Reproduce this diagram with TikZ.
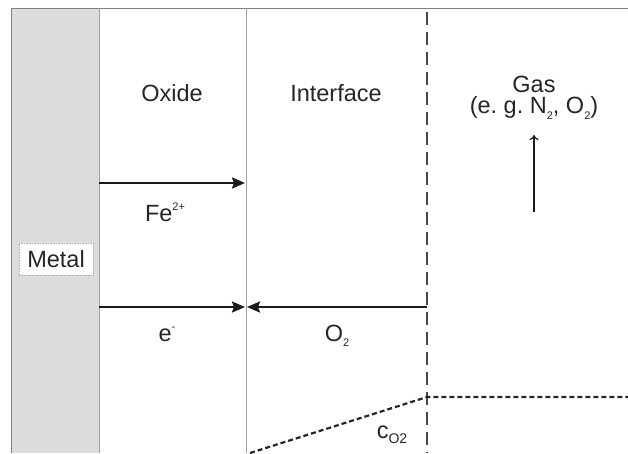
\documentclass[tikz,border=0pt]{standalone}
\usepackage{fontspec}
\setmainfont{Liberation Sans}
\usetikzlibrary{arrows.meta}
\frenchspacing
\definecolor{metalgray}{HTML}{DCDCDC}
\definecolor{sepgray}{HTML}{A0A0A0}
\definecolor{dashgray}{HTML}{484848}
\definecolor{framegray}{HTML}{808080}
\definecolor{ink}{HTML}{1A1A1A}
\newcommand{\supx}[1]{\raisebox{0.85ex}{\fontsize{11}{11}\selectfont #1}}
\newcommand{\subx}[1]{\raisebox{-0.45ex}{\fontsize{11}{11}\selectfont #1}}
\tikzset{
  lbl/.style={inner sep=0pt, text=black!85, font=\fontsize{23.5}{27}\selectfont},
  flux/.style={line width=2.2pt, draw=ink, -{Stealth[length=13pt,width=11pt,inset=2pt]}},
  conc/.style={line width=2.2pt, draw=black!85, dash pattern=on 5pt off 3pt},
}
\begin{document}
\begin{tikzpicture}[x=1pt,y=-1pt]
\useasboundingbox (0,0) rectangle (628,453);
% metal region
\fill[metalgray] (11,8) rectangle (99,453);
\draw[framegray, line width=1pt] (11,453) -- (11,8) -- (628,8);
\draw[sepgray, line width=1pt] (99,8) -- (99,453);
% oxide/interface boundary
\draw[sepgray, line width=1pt] (246,8) -- (246,453);
% interface/gas boundary
\draw[dashgray, line width=2.8pt, dash pattern=on 13pt off 7pt] (427,12) -- (427,453);
% coordinates
\coordinate (feS) at (99,183);
\coordinate (feE) at (245,183);
\coordinate (eS) at (99,307);
\coordinate (eE) at (245,307);
\coordinate (oS) at (427,307);
\coordinate (oE) at (247,307);
\coordinate (gS) at (534,212);
\coordinate (gE) at (534,135);
\coordinate (cA) at (250,453);
\coordinate (cB) at (427,397);
\coordinate (cC) at (628,397);
% labels
\node[lbl] (oxide) at (172,93) {Oxide};
\node[lbl] (interface) at (336,93) {Interface};
\node[lbl] (gas) at (534,84) {Gas};
\node[lbl] (gasex) at (534,108) {(e. g. N\subx{2}, O\subx{2})};
\node[lbl, anchor=base] (fe) at (165,221) {Fe\supx{2+}};
\node[lbl, anchor=base] (el) at (167,341) {e\supx{-}};
\node[lbl, anchor=base] (ox) at (337,341) {O\subx{2}};
\node[lbl, anchor=base] (co) at (392,438) {c\raisebox{-0.45ex}{\fontsize{14}{14}\selectfont O2}};
\node[lbl, fill=white, draw=black!30, densely dotted, line width=0.6pt,
      minimum width=74pt, minimum height=32pt] (metal) at (56,259) {Metal};
% arrows
\draw[flux] (feS) -- (feE);
\draw[flux] (eS) -- (eE);
\draw[flux] (oS) -- (oE);
\draw[line width=1.2pt, draw=ink, -{To[length=5pt,width=9pt]}] (gS) -- (gE);
% concentration profile
\draw[conc] (cA) -- (cB) -- (cC);
\end{tikzpicture}
\end{document}
